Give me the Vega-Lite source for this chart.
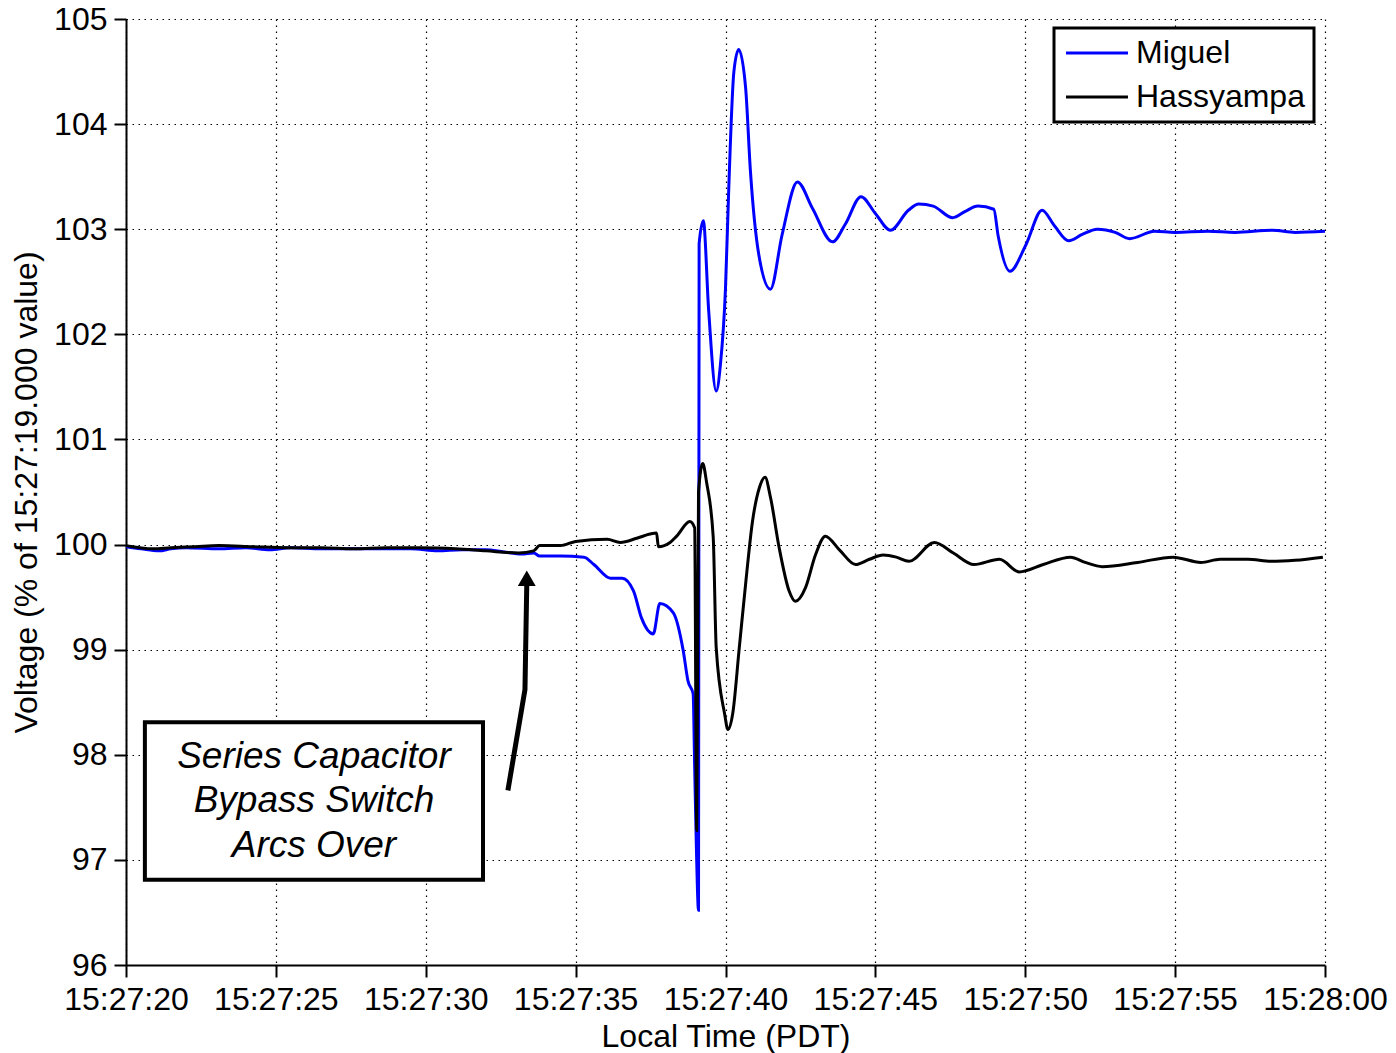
{
  "$schema": "https://vega.github.io/schema/vega-lite/v6.json",
  "width": 1199,
  "height": 946,
  "autosize": {"type": "none"},
  "padding": {"left": 126, "top": 19, "right": 71, "bottom": 88},
  "background": "white",
  "config": {
    "font": "Liberation Sans",
    "view": {"stroke": null},
    "axis": {
      "labelFont": "Liberation Sans",
      "labelFontSize": 32,
      "labelColor": "#000",
      "titleFont": "Liberation Sans",
      "titleFontSize": 32,
      "titleFontWeight": "normal",
      "titleColor": "#000",
      "domainColor": "#000",
      "domainWidth": 2,
      "tickColor": "#000",
      "tickWidth": 2,
      "tickSize": 12,
      "grid": true,
      "gridColor": "#000",
      "gridDash": [1.5, 4.5],
      "gridWidth": 1.2,
      "labelFlush": false,
      "labelOverlap": false
    }
  },
  "datasets": {
    "miguel": [
      {"t": 20.0, "v": 99.98, "station": "Miguel"},
      {"t": 20.5, "v": 99.96, "station": "Miguel"},
      {"t": 21.1, "v": 99.94, "station": "Miguel"},
      {"t": 21.5, "v": 99.96, "station": "Miguel"},
      {"t": 22.0, "v": 99.97, "station": "Miguel"},
      {"t": 23.1, "v": 99.96, "station": "Miguel"},
      {"t": 24.0, "v": 99.97, "station": "Miguel"},
      {"t": 24.8, "v": 99.95, "station": "Miguel"},
      {"t": 25.5, "v": 99.97, "station": "Miguel"},
      {"t": 26.5, "v": 99.96, "station": "Miguel"},
      {"t": 27.5, "v": 99.96, "station": "Miguel"},
      {"t": 28.5, "v": 99.96, "station": "Miguel"},
      {"t": 29.5, "v": 99.96, "station": "Miguel"},
      {"t": 30.4, "v": 99.94, "station": "Miguel"},
      {"t": 31.2, "v": 99.95, "station": "Miguel"},
      {"t": 32.0, "v": 99.95, "station": "Miguel"},
      {"t": 32.6, "v": 99.93, "station": "Miguel"},
      {"t": 33.2, "v": 99.91, "station": "Miguel"},
      {"t": 33.6, "v": 99.92, "station": "Miguel"},
      {"t": 33.8, "v": 99.89, "station": "Miguel"},
      {"t": 34.5, "v": 99.89, "station": "Miguel"},
      {"t": 35.28, "v": 99.88, "station": "Miguel"},
      {"t": 35.61, "v": 99.81, "station": "Miguel"},
      {"t": 36.16, "v": 99.68, "station": "Miguel"},
      {"t": 36.55, "v": 99.68, "station": "Miguel"},
      {"t": 36.93, "v": 99.56, "station": "Miguel"},
      {"t": 37.2, "v": 99.30, "station": "Miguel"},
      {"t": 37.59, "v": 99.15, "station": "Miguel"},
      {"t": 37.81, "v": 99.44, "station": "Miguel"},
      {"t": 38.26, "v": 99.35, "station": "Miguel"},
      {"t": 38.59, "v": 98.99, "station": "Miguel"},
      {"t": 38.75, "v": 98.70, "station": "Miguel"},
      {"t": 38.92, "v": 98.58, "station": "Miguel"},
      {"t": 38.97, "v": 97.9, "station": "Miguel"},
      {"t": 39.03, "v": 97.1, "station": "Miguel"},
      {"t": 39.1, "v": 96.52, "station": "Miguel"},
      {"t": 39.12, "v": 102.86, "station": "Miguel"},
      {"t": 39.26, "v": 103.08, "station": "Miguel"},
      {"t": 39.44, "v": 102.22, "station": "Miguel"},
      {"t": 39.69, "v": 101.46, "station": "Miguel"},
      {"t": 39.83, "v": 101.71, "station": "Miguel"},
      {"t": 40.0, "v": 102.44, "station": "Miguel"},
      {"t": 40.11, "v": 103.4, "station": "Miguel"},
      {"t": 40.28, "v": 104.5, "station": "Miguel"},
      {"t": 40.44, "v": 104.71, "station": "Miguel"},
      {"t": 40.67, "v": 104.35, "station": "Miguel"},
      {"t": 40.83, "v": 103.56, "station": "Miguel"},
      {"t": 41.11, "v": 102.76, "station": "Miguel"},
      {"t": 41.5, "v": 102.43, "station": "Miguel"},
      {"t": 41.89, "v": 102.95, "station": "Miguel"},
      {"t": 42.4, "v": 103.45, "station": "Miguel"},
      {"t": 42.9, "v": 103.2, "station": "Miguel"},
      {"t": 43.57, "v": 102.88, "station": "Miguel"},
      {"t": 44.0, "v": 103.05, "station": "Miguel"},
      {"t": 44.52, "v": 103.31, "station": "Miguel"},
      {"t": 45.0, "v": 103.15, "station": "Miguel"},
      {"t": 45.5, "v": 102.99, "station": "Miguel"},
      {"t": 46.1, "v": 103.18, "station": "Miguel"},
      {"t": 46.45, "v": 103.24, "station": "Miguel"},
      {"t": 46.93, "v": 103.22, "station": "Miguel"},
      {"t": 47.58, "v": 103.11, "station": "Miguel"},
      {"t": 48.0, "v": 103.17, "station": "Miguel"},
      {"t": 48.42, "v": 103.22, "station": "Miguel"},
      {"t": 48.95, "v": 103.19, "station": "Miguel"},
      {"t": 49.1, "v": 102.93, "station": "Miguel"},
      {"t": 49.49, "v": 102.60, "station": "Miguel"},
      {"t": 50.02, "v": 102.85, "station": "Miguel"},
      {"t": 50.56, "v": 103.18, "station": "Miguel"},
      {"t": 50.98, "v": 103.03, "station": "Miguel"},
      {"t": 51.45, "v": 102.89, "station": "Miguel"},
      {"t": 51.9, "v": 102.95, "station": "Miguel"},
      {"t": 52.4, "v": 103.0, "station": "Miguel"},
      {"t": 53.0, "v": 102.97, "station": "Miguel"},
      {"t": 53.48, "v": 102.91, "station": "Miguel"},
      {"t": 54.31, "v": 102.98, "station": "Miguel"},
      {"t": 55.0, "v": 102.97, "station": "Miguel"},
      {"t": 56.1, "v": 102.98, "station": "Miguel"},
      {"t": 57.0, "v": 102.97, "station": "Miguel"},
      {"t": 58.24, "v": 102.99, "station": "Miguel"},
      {"t": 59.0, "v": 102.97, "station": "Miguel"},
      {"t": 60.0, "v": 102.98, "station": "Miguel"}
    ],
    "hassyampa": [
      {"t": 20.0, "v": 99.99, "station": "Hassyampa"},
      {"t": 20.9, "v": 99.96, "station": "Hassyampa"},
      {"t": 21.5, "v": 99.97, "station": "Hassyampa"},
      {"t": 22.3, "v": 99.98, "station": "Hassyampa"},
      {"t": 23.1, "v": 99.99, "station": "Hassyampa"},
      {"t": 24.2, "v": 99.98, "station": "Hassyampa"},
      {"t": 25.4, "v": 99.97, "station": "Hassyampa"},
      {"t": 26.5, "v": 99.97, "station": "Hassyampa"},
      {"t": 27.6, "v": 99.96, "station": "Hassyampa"},
      {"t": 28.7, "v": 99.97, "station": "Hassyampa"},
      {"t": 29.8, "v": 99.97, "station": "Hassyampa"},
      {"t": 31.0, "v": 99.96, "station": "Hassyampa"},
      {"t": 32.0, "v": 99.94, "station": "Hassyampa"},
      {"t": 33.1, "v": 99.92, "station": "Hassyampa"},
      {"t": 33.6, "v": 99.94, "station": "Hassyampa"},
      {"t": 33.8, "v": 99.99, "station": "Hassyampa"},
      {"t": 34.5, "v": 99.99, "station": "Hassyampa"},
      {"t": 35.0, "v": 100.03, "station": "Hassyampa"},
      {"t": 36.05, "v": 100.05, "station": "Hassyampa"},
      {"t": 36.49, "v": 100.02, "station": "Hassyampa"},
      {"t": 37.04, "v": 100.06, "station": "Hassyampa"},
      {"t": 37.48, "v": 100.10, "station": "Hassyampa"},
      {"t": 37.7, "v": 100.11, "station": "Hassyampa"},
      {"t": 37.76, "v": 99.98, "station": "Hassyampa"},
      {"t": 38.15, "v": 100.02, "station": "Hassyampa"},
      {"t": 38.37, "v": 100.08, "station": "Hassyampa"},
      {"t": 38.81, "v": 100.22, "station": "Hassyampa"},
      {"t": 38.97, "v": 100.16, "station": "Hassyampa"},
      {"t": 39.04, "v": 97.28, "station": "Hassyampa"},
      {"t": 39.1, "v": 100.5, "station": "Hassyampa"},
      {"t": 39.24, "v": 100.77, "station": "Hassyampa"},
      {"t": 39.37, "v": 100.59, "station": "Hassyampa"},
      {"t": 39.59, "v": 100.07, "station": "Hassyampa"},
      {"t": 39.69, "v": 99.02, "station": "Hassyampa"},
      {"t": 39.97, "v": 98.39, "station": "Hassyampa"},
      {"t": 40.08, "v": 98.24, "station": "Hassyampa"},
      {"t": 40.24, "v": 98.39, "station": "Hassyampa"},
      {"t": 40.46, "v": 99.02, "station": "Hassyampa"},
      {"t": 40.68, "v": 99.65, "station": "Hassyampa"},
      {"t": 40.9, "v": 100.22, "station": "Hassyampa"},
      {"t": 41.13, "v": 100.54, "station": "Hassyampa"},
      {"t": 41.32, "v": 100.64, "station": "Hassyampa"},
      {"t": 41.5, "v": 100.45, "station": "Hassyampa"},
      {"t": 41.79, "v": 99.97, "station": "Hassyampa"},
      {"t": 42.12, "v": 99.56, "station": "Hassyampa"},
      {"t": 42.33, "v": 99.46, "station": "Hassyampa"},
      {"t": 42.67, "v": 99.59, "station": "Hassyampa"},
      {"t": 43.0, "v": 99.9, "station": "Hassyampa"},
      {"t": 43.33, "v": 100.08, "station": "Hassyampa"},
      {"t": 43.8, "v": 99.95, "station": "Hassyampa"},
      {"t": 44.34, "v": 99.81, "station": "Hassyampa"},
      {"t": 44.8, "v": 99.86, "station": "Hassyampa"},
      {"t": 45.26, "v": 99.9, "station": "Hassyampa"},
      {"t": 45.7, "v": 99.88, "station": "Hassyampa"},
      {"t": 46.12, "v": 99.84, "station": "Hassyampa"},
      {"t": 46.97, "v": 100.02, "station": "Hassyampa"},
      {"t": 47.6, "v": 99.92, "station": "Hassyampa"},
      {"t": 48.29, "v": 99.81, "station": "Hassyampa"},
      {"t": 49.14, "v": 99.86, "station": "Hassyampa"},
      {"t": 49.8, "v": 99.74, "station": "Hassyampa"},
      {"t": 50.6, "v": 99.81, "station": "Hassyampa"},
      {"t": 51.51, "v": 99.88, "station": "Hassyampa"},
      {"t": 52.0, "v": 99.83, "station": "Hassyampa"},
      {"t": 52.57, "v": 99.79, "station": "Hassyampa"},
      {"t": 53.75, "v": 99.83, "station": "Hassyampa"},
      {"t": 54.93, "v": 99.88, "station": "Hassyampa"},
      {"t": 55.86, "v": 99.83, "station": "Hassyampa"},
      {"t": 56.5, "v": 99.86, "station": "Hassyampa"},
      {"t": 57.43, "v": 99.86, "station": "Hassyampa"},
      {"t": 58.2, "v": 99.84, "station": "Hassyampa"},
      {"t": 59.0, "v": 99.85, "station": "Hassyampa"},
      {"t": 59.93, "v": 99.88, "station": "Hassyampa"}
    ],
    "box": [{"x1": 20.63, "x2": 31.91, "y1": 96.81, "y2": 98.31}],
    "label": [
      {"t": 26.27, "v": 97.98, "text": "Series Capacitor"},
      {"t": 26.27, "v": 97.56, "text": "Bypass Switch"},
      {"t": 26.27, "v": 97.13, "text": "Arcs Over"}
    ],
    "arrow": [
      {"t": 32.74, "v": 97.66, "k": 1},
      {"t": 33.31, "v": 98.62, "k": 2},
      {"t": 33.37, "v": 99.62, "k": 3}
    ],
    "head": [{"t": 33.37, "v": 99.68}]
  },
  "encoding": {
    "x": {
      "field": "t", "type": "quantitative",
      "scale": {"domain": [20, 60], "nice": false, "zero": false},
      "axis": {
        "title": "Local Time (PDT)",
        "values": [20, 25, 30, 35, 40, 45, 50, 55, 60],
        "labelExpr": "datum.value == 60 ? '15:28:00' : '15:27:' + datum.value",
        "labelPadding": 7,
        "titlePadding": 6
      }
    },
    "y": {
      "field": "v", "type": "quantitative",
      "scale": {"domain": [96, 105], "nice": false, "zero": false},
      "axis": {
        "title": "Voltage (% of 15:27:19.000 value)",
        "values": [96, 97, 98, 99, 100, 101, 102, 103, 104, 105],
        "labelPadding": 7,
        "titlePadding": 10
      }
    }
  },
  "layer": [
    {
      "data": {"name": "miguel"},
      "mark": {"type": "line", "strokeWidth": 3, "interpolate": "monotone"},
      "encoding": {
        "color": {
          "field": "station", "type": "nominal",
          "scale": {"domain": ["Miguel", "Hassyampa"], "range": ["#0000ff", "#000000"]},
          "legend": {
            "orient": "none",
            "legendX": 928,
            "legendY": 9,
            "title": null,
            "symbolType": "M-1.26,0L4.74,0",
            "symbolSize": 427,
            "symbolStrokeWidth": 3,
            "labelFont": "Liberation Sans",
            "labelFontSize": 32,
            "labelColor": "#000",
            "labelOffset": 41,
            "labelLimit": 400,
            "padding": 9,
            "rowPadding": 12,
            "strokeColor": "#000",
            "fillColor": "#fff",
            "encode": {"legend": {"update": {"strokeWidth": {"value": 3}}}}
          }
        }
      }
    },
    {
      "data": {"name": "hassyampa"},
      "mark": {"type": "line", "strokeWidth": 3, "interpolate": "monotone"},
      "encoding": {
        "color": {"field": "station", "type": "nominal"}
      }
    },
    {
      "data": {"name": "box"},
      "mark": {"type": "rect", "fill": "#fff", "stroke": "#000", "strokeWidth": 4},
      "encoding": {
        "x": {"field": "x1", "type": "quantitative"},
        "x2": {"field": "x2"},
        "y": {"field": "y1", "type": "quantitative"},
        "y2": {"field": "y2"}
      }
    },
    {
      "data": {"name": "label"},
      "mark": {"type": "text", "font": "Liberation Sans", "fontStyle": "italic", "fontSize": 37, "align": "center", "baseline": "middle", "color": "#000"},
      "encoding": {
        "text": {"field": "text"}
      }
    },
    {
      "data": {"name": "arrow"},
      "mark": {"type": "line", "color": "#000", "strokeWidth": 5},
      "encoding": {
        "order": {"field": "k", "type": "quantitative"}
      }
    },
    {
      "data": {"name": "head"},
      "mark": {"type": "point", "shape": "triangle-up", "filled": true, "color": "#000", "size": 320, "opacity": 1},
      "encoding": {}
    }
  ]
}
